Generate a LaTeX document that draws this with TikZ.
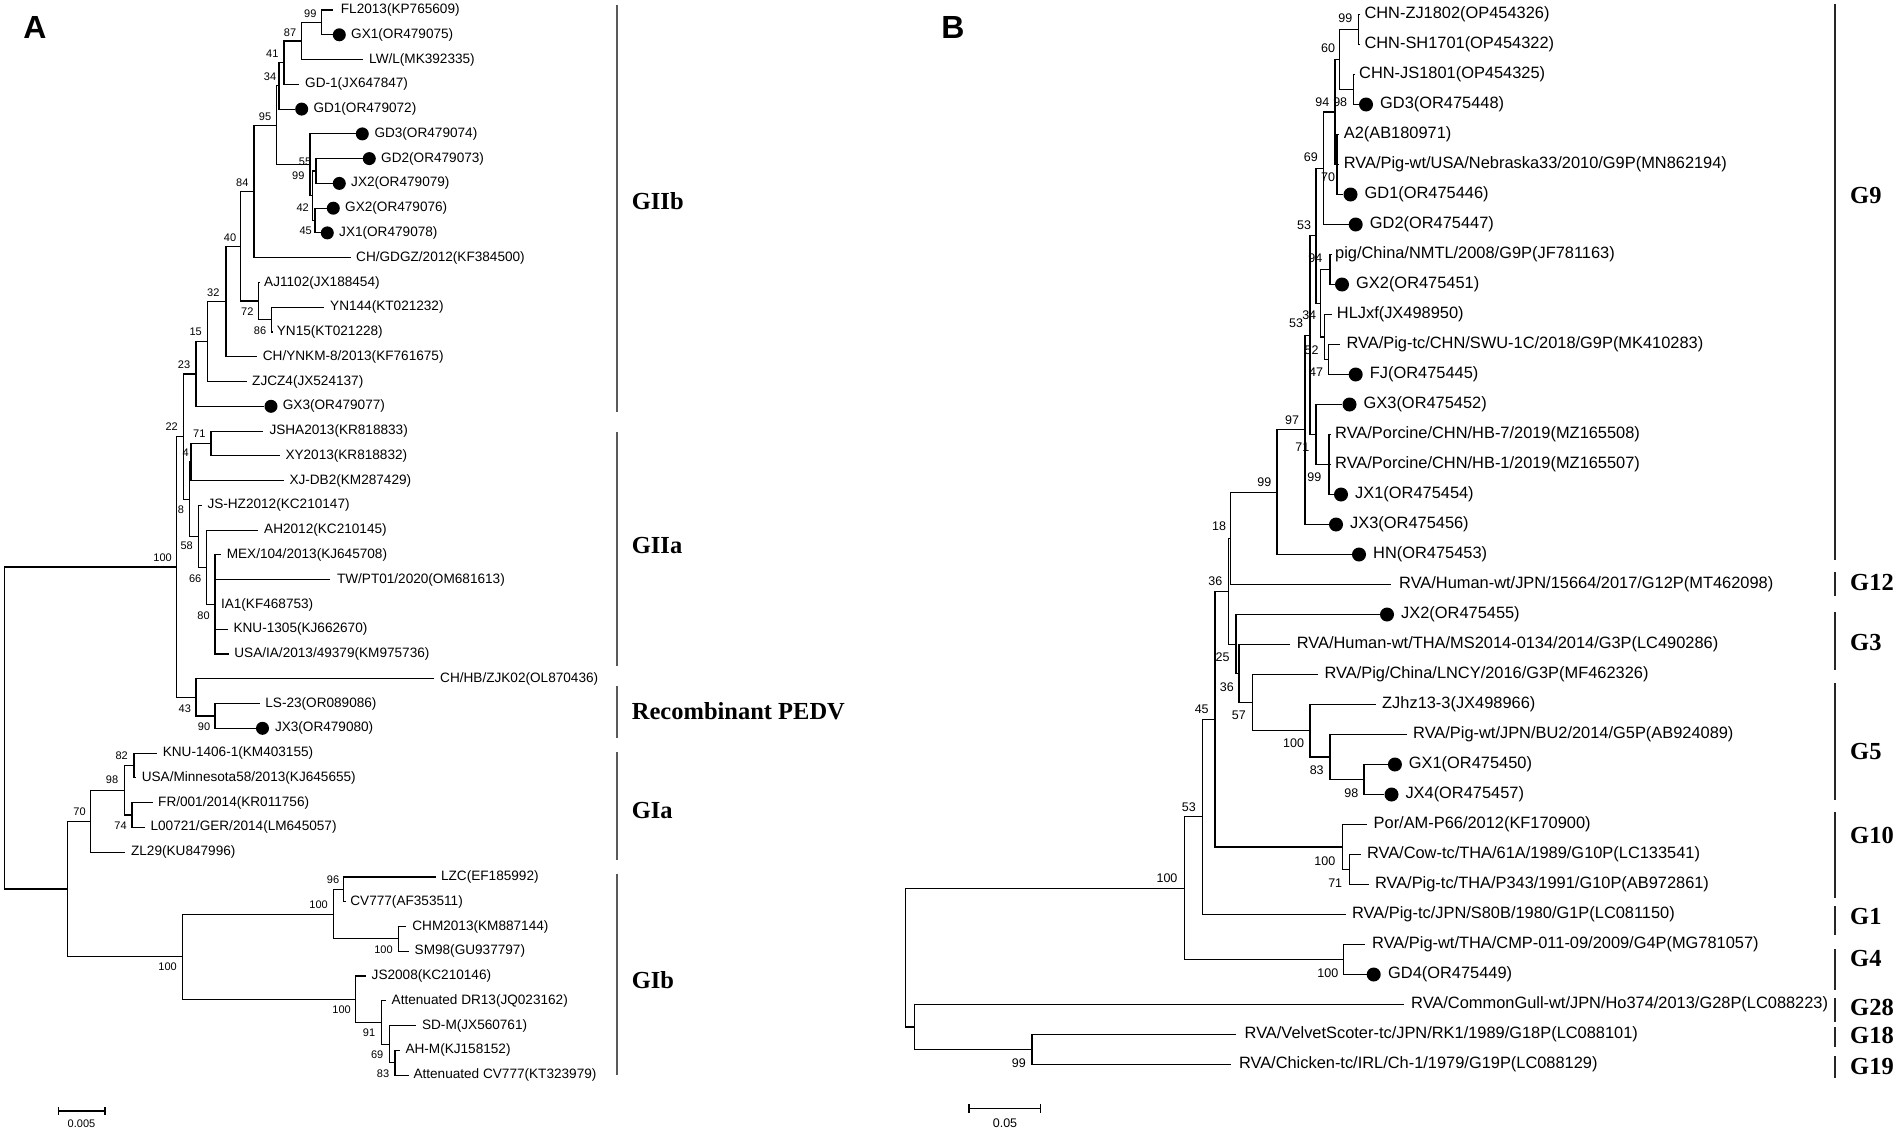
\documentclass[tikz,border=0pt]{standalone}
\usepackage{fontspec}
\setmainfont{Liberation Serif}
\setsansfont{Liberation Sans}
\tikzset{
  branch/.style={line width=1.1pt},
  leafa/.style={anchor=west,inner sep=0pt,font=\sffamily\fontsize{13.6}{15}\selectfont},
  leafb/.style={anchor=west,inner sep=0pt,font=\sffamily\fontsize{16.4}{18}\selectfont},
  boota/.style={inner sep=0pt,font=\sffamily\fontsize{11}{12}\selectfont},
  bootb/.style={inner sep=0pt,font=\sffamily\fontsize{12.5}{14}\selectfont},
  dota/.style={circle,fill=black,inner sep=0pt,minimum size=13pt},
  dotb/.style={circle,fill=black,inner sep=0pt,minimum size=14pt},
  cladebar/.style={line width=2.2pt,black!65},
  cladename/.style={anchor=west,inner sep=0pt,font=\rmfamily\bfseries\fontsize{24.5}{26}\selectfont},
  panel/.style={inner sep=0pt,font=\sffamily\bfseries\fontsize{32}{34}\selectfont},
  scalebar/.style={line width=1.1pt}
}
\begin{document}
\begin{tikzpicture}[x=1pt,y=-1pt]
\useasboundingbox (0,0) rectangle (1898,1132);

% panel letters
\node[panel] (pa) at (35,27) {A};
\node[panel] (pb) at (953,27) {B};

%%%%%%%%%%%%%%%% panel A : leaves
\coordinate (ta0) at (333.3,10.0); \node[leafa] (la0) at (340.7,10.0) {FL2013(KP765609)};
\node[dota] (ta1) at (339.3,34.8) {}; \node[leafa] (la1) at (351,34.8) {GX1(OR479075)};
\coordinate (ta2) at (363.3,59.5); \node[leafa] (la2) at (369,59.5) {LW/L(MK392335)};
\coordinate (ta3) at (299.3,84.3); \node[leafa] (la3) at (305,84.3) {GD-1(JX647847)};
\node[dota] (ta4) at (301.7,109.1) {}; \node[leafa] (la4) at (313.3,109.1) {GD1(OR479072)};
\node[dota] (ta5) at (362.3,133.9) {}; \node[leafa] (la5) at (374.3,133.9) {GD3(OR479074)};
\node[dota] (ta6) at (369.3,158.6) {}; \node[leafa] (la6) at (381,158.6) {GD2(OR479073)};
\node[dota] (ta7) at (339.3,183.4) {}; \node[leafa] (la7) at (351,183.4) {JX2(OR479079)};
\node[dota] (ta8) at (333.3,208.2) {}; \node[leafa] (la8) at (345,208.2) {GX2(OR479076)};
\node[dota] (ta9) at (327.3,232.9) {}; \node[leafa] (la9) at (339,232.9) {JX1(OR479078)};
\coordinate (ta10) at (350.7,257.7); \node[leafa] (la10) at (356,257.7) {CH/GDGZ/2012(KF384500)};
\coordinate (ta11) at (259.5,282.5); \node[leafa] (la11) at (264,282.5) {AJ1102(JX188454)};
\coordinate (ta12) at (324.3,307.2); \node[leafa] (la12) at (330,307.2) {YN144(KT021232)};
\coordinate (ta13) at (272.5,332.0); \node[leafa] (la13) at (276.7,332.0) {YN15(KT021228)};
\coordinate (ta14) at (256.7,356.8); \node[leafa] (la14) at (262.7,356.8) {CH/YNKM-8/2013(KF761675)};
\coordinate (ta15) at (246.7,381.6); \node[leafa] (la15) at (252,381.6) {ZJCZ4(JX524137)};
\node[dota] (ta16) at (271,406.3) {}; \node[leafa] (la16) at (282.7,406.3) {GX3(OR479077)};
\coordinate (ta17) at (263.3,431.1); \node[leafa] (la17) at (269.3,431.1) {JSHA2013(KR818833)};
\coordinate (ta18) at (280,455.9); \node[leafa] (la18) at (285.3,455.9) {XY2013(KR818832)};
\coordinate (ta19) at (284,480.6); \node[leafa] (la19) at (289.3,480.6) {XJ-DB2(KM287429)};
\coordinate (ta20) at (201.7,505.4); \node[leafa] (la20) at (207.3,505.4) {JS-HZ2012(KC210147)};
\coordinate (ta21) at (258.3,530.2); \node[leafa] (la21) at (264,530.2) {AH2012(KC210145)};
\coordinate (ta22) at (221.2,554.9); \node[leafa] (la22) at (226.6,554.9) {MEX/104/2013(KJ645708)};
\coordinate (ta23) at (329.9,579.7); \node[leafa] (la23) at (336.8,579.7) {TW/PT01/2020(OM681613)};
\coordinate (ta24) at (216,604.5); \node[leafa] (la24) at (220.8,604.5) {IA1(KF468753)};
\coordinate (ta25) at (227.7,629.3); \node[leafa] (la25) at (233.4,629.3) {KNU-1305(KJ662670)};
\coordinate (ta26) at (228.9,654.0); \node[leafa] (la26) at (234.2,654.0) {USA/IA/2013/49379(KM975736)};
\coordinate (ta27) at (434.4,678.8); \node[leafa] (la27) at (440,678.8) {CH/HB/ZJK02(OL870436)};
\coordinate (ta28) at (259.5,703.6); \node[leafa] (la28) at (265.2,703.6) {LS-23(OR089086)};
\node[dota] (ta29) at (262.5,728.3) {}; \node[leafa] (la29) at (274.8,728.3) {JX3(OR479080)};
\coordinate (ta30) at (156.9,753.1); \node[leafa] (la30) at (162.6,753.1) {KNU-1406-1(KM403155)};
\coordinate (ta31) at (135.9,777.9); \node[leafa] (la31) at (141.6,777.9) {USA/Minnesota58/2013(KJ645655)};
\coordinate (ta32) at (153,802.6); \node[leafa] (la32) at (158,802.6) {FR/001/2014(KR011756)};
\coordinate (ta33) at (145.4,827.4); \node[leafa] (la33) at (150.4,827.4) {L00721/GER/2014(LM645057)};
\coordinate (ta34) at (125.1,852.2); \node[leafa] (la34) at (130.9,852.2) {ZL29(KU847996)};
\coordinate (ta35) at (436.3,877.0); \node[leafa] (la35) at (440.9,877.0) {LZC(EF185992)};
\coordinate (ta36) at (345.6,901.7); \node[leafa] (la36) at (350.2,901.7) {CV777(AF353511)};
\coordinate (ta37) at (406.4,926.5); \node[leafa] (la37) at (412.2,926.5) {CHM2013(KM887144)};
\coordinate (ta38) at (408.7,951.3); \node[leafa] (la38) at (414.5,951.3) {SM98(GU937797)};
\coordinate (ta39) at (366.2,976.0); \node[leafa] (la39) at (371.5,976.0) {JS2008(KC210146)};
\coordinate (ta40) at (385.8,1000.8); \node[leafa] (la40) at (391.5,1000.8) {Attenuated DR13(JQ023162)};
\coordinate (ta41) at (416.2,1025.6); \node[leafa] (la41) at (421.9,1025.6) {SD-M(JX560761)};
\coordinate (ta42) at (400.1,1050.3); \node[leafa] (la42) at (405.3,1050.3) {AH-M(KJ158152)};
\coordinate (ta43) at (408.7,1075.1); \node[leafa] (la43) at (413.3,1075.1) {Attenuated CV777(KT323979)};

% panel A : inner nodes
\coordinate (a99) at (321.7,22.4);
\coordinate (a87) at (301.7,41.0);
\coordinate (a41) at (284,62.6);
\coordinate (a34) at (279,85.9);
\coordinate (aGD2) at (316,171.0);
\coordinate (aGX2) at (315,220.6);
\coordinate (aJX) at (312.7,195.8);
\coordinate (a55) at (310,164.9);
\coordinate (a95) at (276.7,125.4);
\coordinate (a84) at (254,191.6);
\coordinate (a86) at (271.7,319.6);
\coordinate (a72) at (258.3,301.0);
\coordinate (a40) at (240.7,246.3);
\coordinate (a32) at (226,301.6);
\coordinate (a15) at (207.3,341.6);
\coordinate (a23) at (196,374.0);
\coordinate (a71) at (211,443.5);
\coordinate (a4) at (191,462.0);
\coordinate (a80) at (215,604.5);
\coordinate (a66) at (206.7,567.3);
\coordinate (a58) at (198.3,536.4);
\coordinate (a8) at (189.3,499.2);
\coordinate (a22) at (183.3,436.6);
\coordinate (a90) at (215,716.0);
\coordinate (a43) at (196,697.4);
\coordinate (aGII) at (176.8,567.0);
\coordinate (a82) at (134,765.5);
\coordinate (a74) at (132,815.0);
\coordinate (a98) at (124.4,790.3);
\coordinate (a70) at (90.7,821.2);
\coordinate (a96) at (343.3,889.4);
\coordinate (aCHM) at (398.4,938.9);
\coordinate (aLZC) at (333.5,914.1);
\coordinate (a83) at (395,1062.7);
\coordinate (a69) at (389.2,1044.2);
\coordinate (a91) at (381.2,1022.5);
\coordinate (aJS) at (355.9,999.2);
\coordinate (aGIb) at (182.5,956.7);
\coordinate (aGI) at (67.4,889.0);
\coordinate (aroot) at (4.6,728.0);

\draw[branch] (a99) |- (ta0) (a99) |- (ta1)
  (a87) |- (a99) (a87) |- (ta2)
  (a41) |- (a87) (a41) |- (ta3)
  (a34) |- (a41) (a34) |- (ta4)
  (aGD2) |- (ta6) (aGD2) |- (ta7)
  (aGX2) |- (ta8) (aGX2) |- (ta9)
  (aJX) |- (aGD2) (aJX) |- (aGX2)
  (a55) |- (ta5) (a55) |- (aJX)
  (a95) |- (a34) (a95) |- (a55)
  (a84) |- (a95) (a84) |- (ta10)
  (a86) |- (ta12) (a86) |- (ta13)
  (a72) |- (ta11) (a72) |- (a86)
  (a40) |- (a84) (a40) |- (a72)
  (a32) |- (a40) (a32) |- (ta14)
  (a15) |- (a32) (a15) |- (ta15)
  (a23) |- (a15) (a23) |- (ta16)
  (a71) |- (ta17) (a71) |- (ta18)
  (a4) |- (a71) (a4) |- (ta19)
  (a80) |- (ta22) (a80) |- (ta23) (a80) |- (ta24) (a80) |- (ta25) (a80) |- (ta26)
  (a66) |- (ta21) (a66) |- (a80)
  (a58) |- (ta20) (a58) |- (a66)
  (a8) |- (a4) (a8) |- (a58)
  (a22) |- (a23) (a22) |- (a8)
  (a90) |- (ta28) (a90) |- (ta29)
  (a43) |- (ta27) (a43) |- (a90)
  (aGII) |- (a22) (aGII) |- (a43)
  (a82) |- (ta30) (a82) |- (ta31)
  (a74) |- (ta32) (a74) |- (ta33)
  (a98) |- (a82) (a98) |- (a74)
  (a70) |- (a98) (a70) |- (ta34)
  (a96) |- (ta35) (a96) |- (ta36)
  (aCHM) |- (ta37) (aCHM) |- (ta38)
  (aLZC) |- (a96) (aLZC) |- (aCHM)
  (a83) |- (ta42) (a83) |- (ta43)
  (a69) |- (ta41) (a69) |- (a83)
  (a91) |- (ta40) (a91) |- (a69)
  (aJS) |- (ta39) (aJS) |- (a91)
  (aGIb) |- (aLZC) (aGIb) |- (aJS)
  (aGI) |- (a70) (aGI) |- (aGIb)
  (aroot) |- (aGII) (aroot) |- (aGI);

% panel A : bootstrap values
\foreach \v/\x/\y [count=\i] in {99/310.3/13.3, 87/290/32.3, 41/272.3/53.3, 34/270/76.7,
  95/265/116.7, 55/305/161.7, 99/298.3/176, 42/302.7/207.3, 45/305.7/230.7,
  84/242.3/182.7, 40/230/237.3, 72/247.3/311.7, 86/260/331, 32/213.3/292.7,
  15/195.7/331.7, 23/184/365, 22/171.7/426.7, 71/199.3/434, 4/185.7/452.7,
  8/181/509.3, 58/186.7/546, 66/195.2/578.3, 80/203.6/616, 100/162.6/557.3,
  43/184.8/708.3, 90/204/726.7, 82/121.7/756, 98/112.1/780, 74/120.6/826,
  70/79.6/811.7, 96/333/880, 100/318.6/905, 100/383.5/949.3, 100/167.6/966.7,
  100/341.6/1010, 91/369.1/1032.7, 69/377.2/1055, 83/383/1073.3}
  \node[boota] (sa\i) at (\x,\y) {\v};

% panel A : clades
\draw[cladebar] (616.7,5) -- (616.7,412);
\draw[cladebar] (616.7,432) -- (616.7,666);
\draw[cladebar] (616.7,686) -- (616.7,738);
\draw[cladebar] (616.7,752) -- (616.7,860);
\draw[cladebar] (616.7,874) -- (616.7,1075);
\node[cladename] (cGIIb) at (631.7,201) {GIIb};
\node[cladename] (cGIIa) at (631.7,546) {GIIa};
\node[cladename] (cRec) at (631.7,711) {Recombinant PEDV};
\node[cladename] (cGIa) at (631.7,810) {GIa};
\node[cladename] (cGIb) at (631.7,980) {GIb};

% panel A : scale
\draw[scalebar] (58.6,1107) -- (58.6,1115) (58.6,1111) -- (105,1111) (105,1107) -- (105,1115);
\node[boota] (scA) at (81.5,1124) {0.005};

%%%%%%%%%%%%%%%% panel B : leaves
\coordinate (tb0) at (1359.5,14.5); \node[leafb] (lb0) at (1364.3,14.5) {CHN-ZJ1802(OP454326)};
\coordinate (tb1) at (1359.5,44.5); \node[leafb] (lb1) at (1364.3,44.5) {CHN-SH1701(OP454322)};
\coordinate (tb2) at (1355,74.5); \node[leafb] (lb2) at (1359,74.5) {CHN-JS1801(OP454325)};
\node[dotb] (tb3) at (1366,104.5) {}; \node[leafb] (lb3) at (1380,104.5) {GD3(OR475448)};
\coordinate (tb4) at (1339,134.5); \node[leafb] (lb4) at (1343.6,134.5) {A2(AB180971)};
\coordinate (tb5) at (1339,164.5); \node[leafb] (lb5) at (1343.6,164.5) {RVA/Pig-wt/USA/Nebraska33/2010/G9P(MN862194)};
\node[dotb] (tb6) at (1350.5,194.5) {}; \node[leafb] (lb6) at (1364.5,194.5) {GD1(OR475446)};
\node[dotb] (tb7) at (1355.7,224.5) {}; \node[leafb] (lb7) at (1369.7,224.5) {GD2(OR475447)};
\coordinate (tb8) at (1331.5,254.5); \node[leafb] (lb8) at (1335,254.5) {pig/China/NMTL/2008/G9P(JF781163)};
\node[dotb] (tb9) at (1342,284.5) {}; \node[leafb] (lb9) at (1356,284.5) {GX2(OR475451)};
\coordinate (tb10) at (1332,314.5); \node[leafb] (lb10) at (1336.7,314.5) {HLJxf(JX498950)};
\coordinate (tb11) at (1340.2,344.5); \node[leafb] (lb11) at (1346.4,344.5) {RVA/Pig-tc/CHN/SWU-1C/2018/G9P(MK410283)};
\node[dotb] (tb12) at (1355.7,374.5) {}; \node[leafb] (lb12) at (1369.7,374.5) {FJ(OR475445)};
\node[dotb] (tb13) at (1349.5,404.5) {}; \node[leafb] (lb13) at (1363.5,404.5) {GX3(OR475452)};
\coordinate (tb14) at (1330.5,434.5); \node[leafb] (lb14) at (1335,434.5) {RVA/Porcine/CHN/HB-7/2019(MZ165508)};
\coordinate (tb15) at (1330.5,464.5); \node[leafb] (lb15) at (1335,464.5) {RVA/Porcine/CHN/HB-1/2019(MZ165507)};
\node[dotb] (tb16) at (1341,494.5) {}; \node[leafb] (lb16) at (1355,494.5) {JX1(OR475454)};
\node[dotb] (tb17) at (1336,524.5) {}; \node[leafb] (lb17) at (1350,524.5) {JX3(OR475456)};
\node[dotb] (tb18) at (1359,554.5) {}; \node[leafb] (lb18) at (1373,554.5) {HN(OR475453)};
\coordinate (tb19) at (1390.6,584.5); \node[leafb] (lb19) at (1399,584.5) {RVA/Human-wt/JPN/15664/2017/G12P(MT462098)};
\node[dotb] (tb20) at (1387,614.5) {}; \node[leafb] (lb20) at (1401,614.5) {JX2(OR475455)};
\coordinate (tb21) at (1290,644.5); \node[leafb] (lb21) at (1296.6,644.5) {RVA/Human-wt/THA/MS2014-0134/2014/G3P(LC490286)};
\coordinate (tb22) at (1318,674.5); \node[leafb] (lb22) at (1324.4,674.5) {RVA/Pig/China/LNCY/2016/G3P(MF462326)};
\coordinate (tb23) at (1375.6,704.5); \node[leafb] (lb23) at (1382,704.5) {ZJhz13-3(JX498966)};
\coordinate (tb24) at (1406.8,734.5); \node[leafb] (lb24) at (1413,734.5) {RVA/Pig-wt/JPN/BU2/2014/G5P(AB924089)};
\node[dotb] (tb25) at (1394.9,764.5) {}; \node[leafb] (lb25) at (1408.7,764.5) {GX1(OR475450)};
\node[dotb] (tb26) at (1391.5,794.5) {}; \node[leafb] (lb26) at (1405.3,794.5) {JX4(OR475457)};
\coordinate (tb27) at (1367,824.5); \node[leafb] (lb27) at (1373.5,824.5) {Por/AM-P66/2012(KF170900)};
\coordinate (tb28) at (1360.5,854.5); \node[leafb] (lb28) at (1366.8,854.5) {RVA/Cow-tc/THA/61A/1989/G10P(LC133541)};
\coordinate (tb29) at (1369,884.5); \node[leafb] (lb29) at (1374.8,884.5) {RVA/Pig-tc/THA/P343/1991/G10P(AB972861)};
\coordinate (tb30) at (1346,914.5); \node[leafb] (lb30) at (1351.9,914.5) {RVA/Pig-tc/JPN/S80B/1980/G1P(LC081150)};
\coordinate (tb31) at (1365,944.5); \node[leafb] (lb31) at (1372,944.5) {RVA/Pig-wt/THA/CMP-011-09/2009/G4P(MG781057)};
\node[dotb] (tb32) at (1373.7,974.5) {}; \node[leafb] (lb32) at (1388,974.5) {GD4(OR475449)};
\coordinate (tb33) at (1403.5,1004.5); \node[leafb] (lb33) at (1411,1004.5) {RVA/CommonGull-wt/JPN/Ho374/2013/G28P(LC088223)};
\coordinate (tb34) at (1236,1034.5); \node[leafb] (lb34) at (1244.5,1034.5) {RVA/VelvetScoter-tc/JPN/RK1/1989/G18P(LC088101)};
\coordinate (tb35) at (1231.3,1064.5); \node[leafb] (lb35) at (1238.8,1064.5) {RVA/Chicken-tc/IRL/Ch-1/1979/G19P(LC088129)};

% panel B : inner nodes
\coordinate (bZJ) at (1358.4,29.5);
\coordinate (bJS) at (1353.3,89.5);
\coordinate (b60) at (1339.5,59.5);
\coordinate (bA2) at (1337,164.5);
\coordinate (b94) at (1335,112);
\coordinate (b69) at (1323.7,168.3);
\coordinate (bpig) at (1330,269.5);
\coordinate (b47) at (1328.5,359.5);
\coordinate (b34) at (1324.5,337);
\coordinate (b52) at (1320.2,303.3);
\coordinate (b53) at (1316,235.8);
\coordinate (bHB) at (1329,464.5);
\coordinate (b71) at (1316,434.5);
\coordinate (b53x) at (1310,335.2);
\coordinate (b97) at (1305,429.9);
\coordinate (bG9) at (1277,492.2);
\coordinate (b18) at (1230.5,538.4);
\coordinate (bGX1) at (1364,779.5);
\coordinate (b83) at (1330,757);
\coordinate (bG5) at (1310,730.8);
\coordinate (b57) at (1252.6,702.6);
\coordinate (bTHA) at (1239,673.6);
\coordinate (b25) at (1236,644.1);
\coordinate (b36) at (1228.5,591.2);
\coordinate (bCow) at (1349.6,869.5);
\coordinate (bG10) at (1342.3,847);
\coordinate (b45) at (1215,719.1);
\coordinate (bS80) at (1202.6,816.8);
\coordinate (bG4) at (1343.8,959.5);
\coordinate (bmam) at (1184.2,888.2);
\coordinate (bbird) at (1032,1049.5);
\coordinate (bavi) at (914.4,1027);
\coordinate (broot) at (905.8,957.6);

\draw[branch] (bZJ) |- (tb0) (bZJ) |- (tb1)
  (bJS) |- (tb2) (bJS) |- (tb3)
  (b60) |- (bZJ) (b60) |- (bJS)
  (bA2) |- (tb4) (bA2) |- (tb5) (bA2) |- (tb6)
  (b94) |- (b60) (b94) |- (bA2)
  (b69) |- (b94) (b69) |- (tb7)
  (bpig) |- (tb8) (bpig) |- (tb9)
  (b47) |- (tb11) (b47) |- (tb12)
  (b34) |- (tb10) (b34) |- (b47)
  (b52) |- (bpig) (b52) |- (b34)
  (b53) |- (b69) (b53) |- (b52)
  (bHB) |- (tb14) (bHB) |- (tb15) (bHB) |- (tb16)
  (b71) |- (tb13) (b71) |- (bHB)
  (b53x) |- (b53) (b53x) |- (b71)
  (b97) |- (b53x) (b97) |- (tb17)
  (bG9) |- (b97) (bG9) |- (tb18)
  (b18) |- (bG9) (b18) |- (tb19)
  (bGX1) |- (tb25) (bGX1) |- (tb26)
  (b83) |- (tb24) (b83) |- (bGX1)
  (bG5) |- (tb23) (bG5) |- (b83)
  (b57) |- (tb22) (b57) |- (bG5)
  (bTHA) |- (tb21) (bTHA) |- (b57)
  (b25) |- (tb20) (b25) |- (bTHA)
  (b36) |- (b18) (b36) |- (b25)
  (bCow) |- (tb28) (bCow) |- (tb29)
  (bG10) |- (tb27) (bG10) |- (bCow)
  (b45) |- (b36) (b45) |- (bG10)
  (bS80) |- (b45) (bS80) |- (tb30)
  (bG4) |- (tb31) (bG4) |- (tb32)
  (bmam) |- (bS80) (bmam) |- (bG4)
  (bbird) |- (tb34) (bbird) |- (tb35)
  (bavi) |- (tb33) (bavi) |- (bbird)
  (broot) |- (bmam) (broot) |- (bavi);

% panel B : bootstrap values
\foreach \v/\x/\y [count=\i] in {99/1345.4/18.5, 60/1328.1/48.3, 94/1322.3/101.7,
  98/1340.2/101.7, 69/1310.9/156.7, 70/1328.1/176.7, 53/1304/225, 94/1315.4/258.3,
  34/1309.2/315, 53/1296.1/323.3, 52/1311.6/350, 47/1316.1/371.7, 97/1292/420,
  71/1302.3/446.7, 99/1314.4/476.7, 99/1264.4/481.7, 18/1219/526.6, 36/1215.4/580.7,
  25/1222.6/657.3, 36/1226.9/686.7, 45/1201.7/709, 57/1238.9/715.7, 100/1293.6/743.3,
  83/1316.7/770, 98/1351.3/792.7, 53/1188.9/806.7, 100/1324.9/860.7, 71/1335.2/883.3,
  100/1167/878.3, 100/1327.8/973.3, 99/1018.9/1062.7}
  \node[bootb] (sb\i) at (\x,\y) {\v};

% panel B : genotypes
\foreach \g/\ya/\yb/\yl in {G9/4/560/196, G12/572/596/583, G3/612/670/643,
  G5/683/800/752, G10/812/898/835, G1/906/935/916, G4/949/990/958,
  G28/998/1022/1007, G18/1027/1047/1035, G19/1056/1078/1066} {
  \draw[cladebar,black!85] (1835,\ya) -- (1835,\yb);
  \node[cladename] (c\g) at (1850,\yl) {\g};
}

% panel B : scale
\draw[scalebar] (969,1104) -- (969,1112.6) (969,1108.3) -- (1040.7,1108.3) (1040.7,1104) -- (1040.7,1112.6);
\node[bootb] (scB) at (1005,1122.7) {0.05};
\end{tikzpicture}
\end{document}
